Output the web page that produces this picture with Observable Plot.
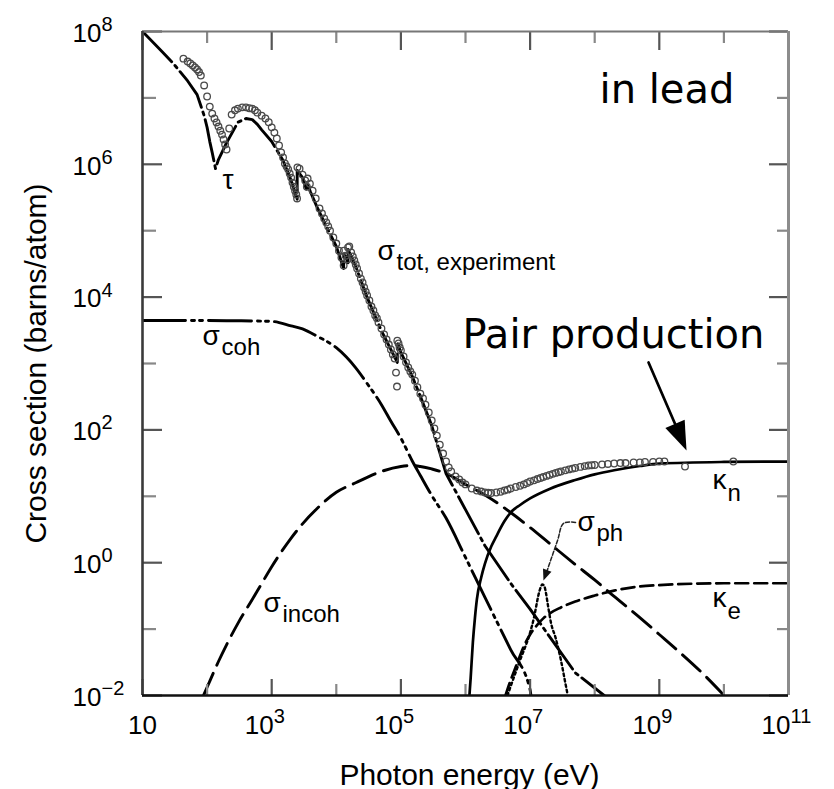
<!DOCTYPE html>
<html>
<head>
<meta charset="utf-8">
<script src="https://cdn.jsdelivr.net/npm/d3@7"></script>
<script src="https://cdn.jsdelivr.net/npm/@observablehq/plot@0.6"></script>
<style>
  html, body { margin: 0; padding: 0; background: #fff; }
  #chart { width: 834px; height: 789px; }
</style>
</head>
<body>
<div id="chart"></div>
<script>
// ---------- data (photon energy in eV, cross section in barns/atom) ----------
const tauPts = [[10,1e8],[20,5.0e7],[30,3.3e7],[50,1.8e7],[70,1.12e7],[90,5.4e6],[100,3.6e6],[110,2.2e6],[120,1.5e6],[135,8.6e5],[150,1.18e6],[200,2.1e6],[300,4.3e6],[400,4.9e6],[500,4.7e6],[600,4.0e6],[700,3.3e6],[1000,2.2e6],[1500,1.14e6],[2000,5.7e5],[2480,2.85e5],[2480,8.1e5],[3000,6.3e5],[3500,4.0e5],[3500,5.3e5],[4000,3.8e5],[5000,2.3e5],[7000,1.16e5],[1e4,5.8e4],[1.3e4,2.7e4],[1.3e4,4.7e4],[1.52e4,3.3e4],[1.52e4,5.2e4],[2e4,2.9e4],[3e4,9.9e3],[5e4,3.1e3],[8.8e4,1.04e3],[8.8e4,2.07e3],[1e5,1.47e3],[1.5e5,6.4e2],[2e5,3.2e2],[3e5,1.16e2],[5e5,22],[1e6,6.3],[2e6,1.8],[5e6,0.49],[1e7,0.20],[2e7,0.077],[5e7,0.022],[1.4e8,0.01]];

const cohPts = [[10,4.45e3],[100,4.45e3],[300,4.4e3],[1000,4.3e3],[2000,3.69e3],[3000,3.32e3],[5000,2.59e3],[1e4,1.73e3],[2e4,8.6e2],[3e4,5.0e2],[5e4,2.4e2],[7e4,1.35e2],[1e5,75],[1.5e5,34],[2e5,20.6],[3e5,10.3],[5e5,4.7],[1e6,1.2],[2e6,0.30],[5e6,0.049],[1e7,0.0122],[1.03e7,0.01]];

const incohPts = [[88,0.01],[100,0.0133],[150,0.0325],[200,0.058],[300,0.122],[500,0.279],[700,0.486],[1000,0.87],[2000,2.35],[3000,3.85],[5000,6.5],[1e4,11.5],[2e4,16.0],[5e4,23.7],[1e5,28.1],[1.5e5,29.1],[2e5,28.1],[3e5,25.8],[5e5,22.1],[1e6,15.1],[2e6,10.5],[5e6,5.7],[1e7,3.39],[2e7,1.95],[5e7,0.94],[1e8,0.55],[2e8,0.31],[5e8,0.149],[1e9,0.083],[2e9,0.046],[5e9,0.0202],[1.01e10,0.01]];

const kappaNPts = [[1.15e6,0.01],[1.2e6,0.018],[1.3e6,0.063],[1.4e6,0.148],[1.5e6,0.28],[1.75e6,0.6],[2e6,0.97],[2.5e6,1.75],[3e6,2.5],[4e6,4.2],[5e6,5.7],[7e6,7.4],[1e7,9.3],[2e7,12.9],[5e7,17.6],[1e8,21.4],[2e8,24.7],[5e8,28.6],[1e9,31.1],[1e10,32.9],[1e11,33.4]];

const kappaEPts = [[4.16e6,0.01],[5e6,0.017],[6e6,0.027],[7e6,0.040],[8e6,0.055],[1e7,0.083],[1.3e7,0.117],[1.6e7,0.145],[2e7,0.172],[3e7,0.212],[5e7,0.26],[1e8,0.32],[2e8,0.38],[5e8,0.44],[1e9,0.46],[1e10,0.49],[1e11,0.49]];

const photoNuclearPts = [[4.47e6,0.01],[5e6,0.0137],[7e6,0.034],[1e7,0.089],[1.15e7,0.15],[1.25e7,0.227],[1.35e7,0.33],[1.45e7,0.42],[1.55e7,0.47],[1.65e7,0.45],[1.75e7,0.36],[1.9e7,0.22],[2.1e7,0.126],[2.5e7,0.072],[3e7,0.034],[3.5e7,0.0157],[3.8e7,0.0104]];

const experimentPts = [[43,3.9e7],[50,3.53e7],[55,3.3e7],[60,3.08e7],[65,2.87e7],[70,2.68e7],[75,2.45e7],[80,2.17e7],[90,1.54e7],[100,1.05e7],[110,7.4e6],[120,5.8e6],[130,4.9e6],[140,4.27e6],[150,3.7e6],[160,3.2e6],[170,2.8e6],[180,2.37e6],[190,1.99e6],[200,1.67e6],[220,3.46e6],[240,5.6e6],[270,6.5e6],[300,6.9e6],[350,7.2e6],[400,7.2e6],[450,7.0e6],[500,6.9e6],[550,6.5e6],[600,6.0e6],[700,5.4e6],[800,4.9e6],[900,4.3e6],[1000,3.6e6],[1100,3.0e6],[1200,2.45e6],[1300,1.92e6],[1400,1.51e6],[1500,1.27e6],[1600,1.03e6],[1700,9.3e5],[1800,8.4e5],[1900,7.3e5],[2000,6.3e5],[2100,5.3e5],[2200,4.6e5],[2300,4.0e5],[2400,3.5e5],[2470,3.06e5],[2500,9.0e5],[2700,8.6e5],[3000,7.0e5],[3300,5.7e5],[3500,4.6e5],[3600,6.1e5],[3900,5.1e5],[4300,4.0e5],[4800,3.06e5],[5500,2.16e5],[6000,1.82e5],[6500,1.53e5],[7000,1.33e5],[7500,1.16e5],[8000,1.0e5],[9000,7.9e4],[1e4,6.4e4],[1.1e4,5.0e4],[1.2e4,3.95e4],[1.3e4,3.0e4],[1.31e4,5.0e4],[1.4e4,4.2e4],[1.5e4,3.7e4],[1.52e4,5.6e4],[1.59e4,5.8e4],[1.7e4,4.7e4],[1.8e4,4.1e4],[1.9e4,3.56e4],[2e4,3.1e4],[2.1e4,2.7e4],[2.25e4,2.27e4],[2.4e4,1.9e4],[2.55e4,1.66e4],[2.7e4,1.4e4],[2.85e4,1.21e4],[3e4,1.06e4],[3.25e4,8.9e3],[3.5e4,7.2e3],[3.75e4,6.3e3],[4e4,5.3e3],[4.25e4,4.8e3],[4.5e4,4.15e3],[5e4,3.37e3],[5.5e4,2.74e3],[6e4,2.3e3],[6.5e4,1.93e3],[7e4,1.63e3],[7.5e4,1.37e3],[8e4,1.19e3],[8.4e4,7.3e2],[8.7e4,4.5e2],[8.8e4,2.2e3],[9.2e4,2.0e3],[9.6e4,1.74e3],[1e5,1.57e3],[1.1e5,1.28e3],[1.2e5,1.04e3],[1.3e5,8.7e2],[1.4e5,7.6e2],[1.5e5,6.8e2],[1.65e5,5.5e2],[1.8e5,4.4e2],[2e5,3.5e2],[2.2e5,2.97e2],[2.4e5,2.4e2],[2.7e5,1.83e2],[3e5,1.39e2],[3.3e5,1.05e2],[3.6e5,82],[4e5,60],[4.5e5,44],[5e5,33.4],[5.5e5,27.2],[6e5,23.7],[7e5,19.9],[8e5,17.9],[9e5,16.1],[1e6,15.1],[1.25e6,13.1],[1.5e6,12.2],[1.75e6,11.8],[2e6,11.4],[2.25e6,11.3],[2.5e6,11.2],[3e6,11.4],[3.5e6,11.7],[4e6,12.2],[4.5e6,12.6],[5e6,13.1],[6e6,13.8],[7e6,14.4],[8e6,15.1],[9e6,15.9],[1e7,16.7],[1.15e7,17.4],[1.3e7,18.2],[1.45e7,18.9],[1.6e7,19.5],[1.8e7,20.3],[2e7,21.0],[2.25e7,21.8],[2.5e7,22.5],[2.75e7,23.1],[3e7,23.7],[3.5e7,24.6],[4e7,25.4],[4.5e7,26.1],[5e7,26.7],[6e7,27.7],[7e7,28.5],[8e7,29.1],[9e7,29.4],[1e8,29.6],[1.3e8,30.1],[1.6e8,30.7],[2e8,31.2],[2.5e8,31.7],[3e8,31.7],[4e8,32.3],[5e8,32.3],[6e8,32.9],[8e8,32.9],[1e9,33.4],[1.2e9,33.4],[2.5e9,28.1],[1.4e10,33.4]];

// annotation anchors (data coordinates)
const curveLabels = [
  {t: "τ", sub: "", e: 173, s: 4.18e5},
  {t: "σ", sub: "tot, experiment", e: 4.35e4, s: 3.68e4},
  {t: "σ", sub: "coh", e: 85, s: 1.87e3},
  {t: "σ", sub: "incoh", e: 747, s: 0.178},
  {t: "σ", sub: "ph", e: 5.42e7, s: 3.05},
  {t: "κ", sub: "n", e: 6.67e9, s: 13.1},
  {t: "κ", sub: "e", e: 6.67e9, s: 0.212}
];
const bigNotes = [
  {text: "in lead", e: 1.19e8, s: 8.5e6},
  {text: "Pair production", e: 9.0e5, s: 1.74e3}
];
const pairArrow = [{x1: 6.8e8, y1: 1.04e3, x2: 2.64e9, y2: 49}];
const phArrowPts = [[5.05e7, 4.04], [3.29e7, 3.9], [2.66e7, 2.16], [1.79e7, 0.71]];
const phArrowTip = [{e: 1.61e7, s: 0.54}];

// axis ticks
const xMajor = [10, 1e3, 1e5, 1e7, 1e9, 1e11];
const xExp = ["", "3", "5", "7", "9", "11"];
const xMinor = [1e2, 1e4, 1e6, 1e8, 1e10];
const yMajor = [1e-2, 1, 1e2, 1e4, 1e6, 1e8];
const yExp = ["\u22122", "0", "2", "4", "6", "8"];
const yMinor = [1e-1, 1e1, 1e3, 1e5, 1e7];

// ---------- layout ----------
const W = 834, H = 789, ML = 142, MR = 46, MT = 31, MB = 94;
const FW = W - ML - MR, FH = H - MT - MB;
const sans = "'Liberation Sans', Arial, Helvetica, sans-serif";
const noteFont = "'DejaVu Sans', Verdana, sans-serif";
const toObj = (pts) => pts.map(([e, s]) => ({e, s}));

function headSymbol(len, half, deg) {
  const a = deg * Math.PI / 180, ux = Math.sin(a), uy = Math.cos(a);
  return {
    draw(ctx) {
      const bx = -len * ux, by = -len * uy, px = -uy, py = ux;
      ctx.moveTo(0, 0);
      ctx.lineTo(bx + half * px, by + half * py);
      ctx.lineTo(bx - half * px, by - half * py);
      ctx.closePath();
    }
  };
}

const curve = (pts, opts) => Plot.line(toObj(pts), {x: "e", y: "s", stroke: "black", strokeWidth: 2.9, clip: true, ...opts});

const yLab = yMajor.map((v, i) => ({v, exp: yExp[i]}));
const xLab = xMajor.map((v, i) => ({v, exp: xExp[i]}));

const chart = Plot.plot({
  width: W, height: H,
  marginLeft: ML, marginRight: MR, marginTop: MT, marginBottom: MB,
  style: {background: "white", fontFamily: sans, overflow: "visible"},
  x: {type: "log", domain: [10, 1e11], axis: null},
  y: {type: "log", domain: [1e-2, 1e8], axis: null},
  marks: [
    // curves
    curve(tauPts, {strokeDasharray: "42,5,3,5"}),
    curve(cohPts, {strokeDasharray: "43,6,3,5,3,6", curve: "monotone-x"}),
    curve(incohPts, {strokeDasharray: "24,9", curve: "monotone-x"}),
    curve(kappaNPts, {curve: "monotone-x", strokeWidth: 2.7}),
    curve(kappaEPts, {strokeDasharray: "13,6", curve: "monotone-x", strokeWidth: 2.7}),
    curve(photoNuclearPts, {strokeDasharray: "2.5,3", curve: "monotone-x", strokeWidth: 2.4}),
    // experimental points
    Plot.dot(toObj(experimentPts), {x: "e", y: "s", r: 3.3, stroke: "#4a4a4a", strokeWidth: 1.3, fill: "none"}),

    // ticks (inward)
    Plot.tickY(yMajor, {y: d => d, insetRight: FW - 20, stroke: "#555", strokeWidth: 2.2}),
    Plot.tickY(yMinor, {y: d => d, insetRight: FW - 14, stroke: "#888", strokeWidth: 2.2}),
    Plot.tickY(yMajor, {y: d => d, insetLeft: FW - 19, stroke: "#555", strokeWidth: 2.2}),
    Plot.tickY(yMinor, {y: d => d, insetLeft: FW - 11, stroke: "#888", strokeWidth: 2.2}),
    Plot.tickX(xMajor, {x: d => d, insetBottom: FH - 19, stroke: "#555", strokeWidth: 2.2}),
    Plot.tickX(xMinor, {x: d => d, insetBottom: FH - 12, stroke: "#888", strokeWidth: 2.2}),
    Plot.tickX(xMajor, {x: d => d, insetTop: FH - 16, stroke: "#555", strokeWidth: 2.2}),
    Plot.tickX(xMinor, {x: d => d, insetTop: FH - 11, stroke: "#888", strokeWidth: 2.2}),

    // frame
    Plot.ruleY([1e8], {stroke: "#777", strokeWidth: 2}),
    Plot.ruleX([1e11], {stroke: "#8c8c8c", strokeWidth: 3}),
    Plot.ruleX([10], {stroke: "#3a3a3a", strokeWidth: 2.6}),
    Plot.ruleY([1e-2], {stroke: "#111", strokeWidth: 2.6}),

    // y tick labels
    Plot.text(yLab, {x: () => 10, y: "v", text: () => "10", textAnchor: "start", lineAnchor: "middle", dx: -70, dy: 2, fontSize: 26, fill: "black"}),
    Plot.text(yLab, {x: () => 10, y: "v", text: "exp", textAnchor: "start", lineAnchor: "middle", dx: -41, dy: -7, fontSize: 20, fill: "black"}),
    // x tick labels
    Plot.text(xLab.slice(0, 1), {x: "v", y: () => 1e-2, text: () => "10", textAnchor: "middle", lineAnchor: "middle", dy: 30, fontSize: 26, fill: "black"}),
    Plot.text(xLab.slice(1), {x: "v", y: () => 1e-2, text: () => "10", textAnchor: "end", lineAnchor: "middle", dx: 2, dy: 30, fontSize: 26, fill: "black"}),
    Plot.text(xLab.slice(1), {x: "v", y: () => 1e-2, text: "exp", textAnchor: "start", lineAnchor: "middle", dx: 2, dy: 21, fontSize: 20, fill: "black"}),

    // axis titles
    Plot.text(["Cross section (barns/atom)"], {frameAnchor: "left", text: d => d, rotate: -90, dx: -97, lineAnchor: "bottom", textAnchor: "middle", fontSize: 30, fill: "black"}),
    Plot.text(["Photon energy (eV)"], {frameAnchor: "bottom", text: d => d, dx: 4, dy: 89, lineAnchor: "bottom", textAnchor: "middle", fontSize: 30, fill: "black"}),

    // curve labels
    Plot.text(curveLabels, {x: "e", y: "s", text: "t", textAnchor: "start", lineAnchor: "bottom", fontSize: 28, fill: "black"}),
    Plot.text(curveLabels.filter(d => d.t === "σ"), {x: "e", y: "s", text: "sub", textAnchor: "start", lineAnchor: "bottom", dx: 19, dy: 10, fontSize: 24, fill: "black"}),
    Plot.text(curveLabels.filter(d => d.t === "κ"), {x: "e", y: "s", text: "sub", textAnchor: "start", lineAnchor: "bottom", dx: 15, dy: 12, fontSize: 24, fill: "black"}),

    // σ_ph pointer
    Plot.line(toObj(phArrowPts), {x: "e", y: "s", stroke: "#222", strokeWidth: 1.5, strokeDasharray: "4,2", curve: "catmull-rom"}),
    Plot.dot(phArrowTip, {x: "e", y: "s", symbol: headSymbol(11, 4.5, -20), fill: "#111", stroke: "none", r: 4}),

    // big annotations
    Plot.text(bigNotes, {x: "e", y: "s", text: "text", textAnchor: "start", lineAnchor: "bottom", fontSize: 40, fontFamily: noteFont, fill: "black"}),
    Plot.arrow(pairArrow, {x1: "x1", y1: "y1", x2: "x2", y2: "y2", stroke: "black", strokeWidth: 2.6, headLength: 0, insetEnd: 20}),
    Plot.dot(pairArrow, {x: "x2", y: "y2", symbol: headSymbol(29, 10.5, 23.4), fill: "black", stroke: "none", r: 5})
  ]
});

document.getElementById("chart").append(chart);
</script>
</body>
</html>
